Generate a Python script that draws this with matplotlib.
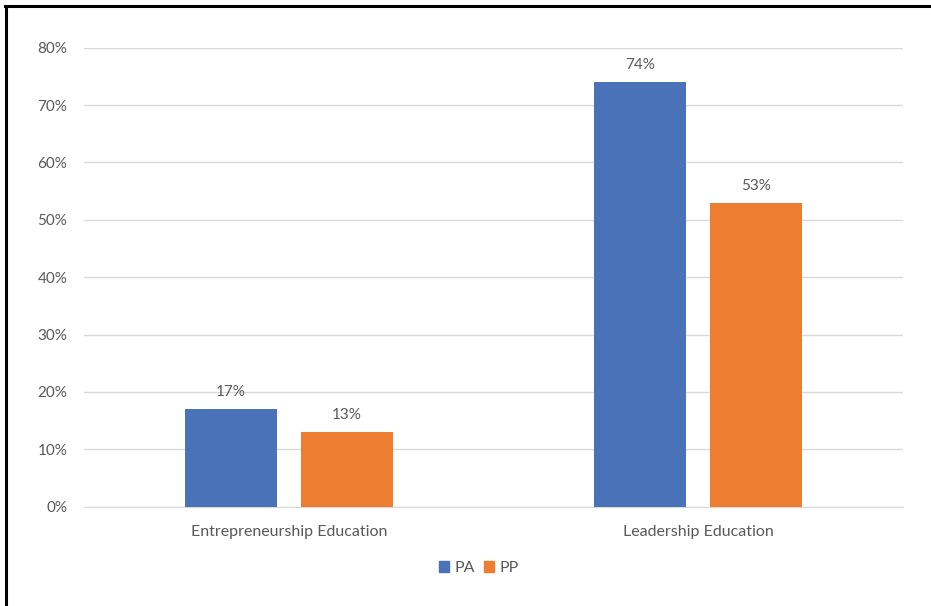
import matplotlib.pyplot as plt
from matplotlib.patches import Rectangle
from matplotlib.lines import Line2D
import numpy as np

categories = ["Entrepreneurship Education", "Leadership Education"]
series_names = ["PA", "PP"]
pa_values = [17, 74]
pp_values = [13, 53]
y_ticks = [0, 10, 20, 30, 40, 50, 60, 70, 80]

blue = "#4A72B8"
orange = "#ED7D31"
text_col = "#595959"
grid_col = "#D9D9D9"

plt.rcParams["font.family"] = ["Lato", "DejaVu Sans"]

W, H = 931, 606
fig = plt.figure(figsize=(W / 100, H / 100), dpi=100)

# plot area in pixel coordinates
left, right = 84, 903
top, bottom = 47.7, 506.7
ax = fig.add_axes([left / W, 1 - bottom / H, (right - left) / W, (bottom - top) / H])

x = np.arange(len(categories))
bw = 0.224
gap = 0.059
off = (bw + gap) / 2
b1 = ax.bar(x - off, pa_values, bw, color=blue, label=series_names[0], zorder=3)
b2 = ax.bar(x + off, pp_values, bw, color=orange, label=series_names[1], zorder=3)

for bars, vals in ((b1, pa_values), (b2, pp_values)):
    for rect, v in zip(bars, vals):
        ax.annotate(f"{v}%", (rect.get_x() + rect.get_width() / 2, v),
                    xytext=(0, 7), textcoords="offset points",
                    ha="center", va="bottom", fontsize=11, color=text_col)

ax.set_xlim(-0.5, len(categories) - 0.5)
ax.set_ylim(0, 80)
ax.set_yticks(y_ticks)
ax.set_yticklabels([f"{t}%" for t in y_ticks])
ax.set_xticks(x)
ax.set_xticklabels(categories)
ax.tick_params(axis="y", length=0, labelsize=11, labelcolor=text_col, pad=12)
ax.tick_params(axis="x", length=0, labelsize=11.5, labelcolor=text_col, pad=13.5)
ax.grid(axis="y", color=grid_col, linewidth=1, zorder=0)
for s in ("top", "right", "left"):
    ax.spines[s].set_visible(False)
ax.spines["bottom"].set_color(grid_col)
ax.spines["bottom"].set_zorder(0)

handles = [Rectangle((0, 0), 1, 1, color=blue), Rectangle((0, 0), 1, 1, color=orange)]
fig.legend(handles, series_names, loc="center", bbox_to_anchor=(479 / W, 1 - 568 / H),
           ncol=2, frameon=False, fontsize=11.5, labelcolor=text_col,
           handlelength=0.65, handleheight=0.65, handletextpad=0.35, columnspacing=0.55)

# frame on the left and top edges
fig.add_artist(Line2D([6 / W, 6 / W], [0, 1 - 6 / H], transform=fig.transFigure,
                      color="black", linewidth=2.2))
fig.add_artist(Line2D([5 / W, 1], [1 - 6 / H, 1 - 6 / H], transform=fig.transFigure,
                      color="black", linewidth=2.2))

fig.savefig("out.png", dpi=100)
